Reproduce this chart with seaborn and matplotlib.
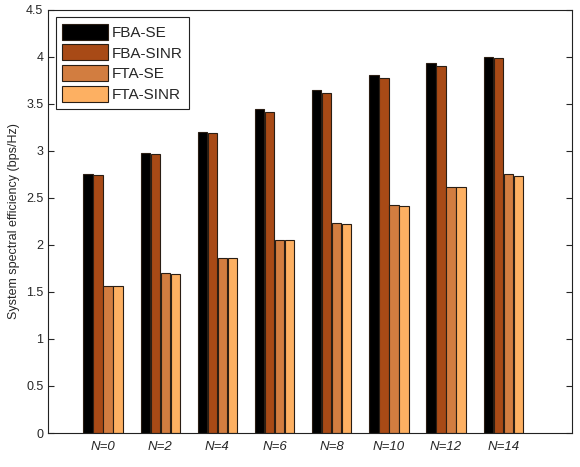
import matplotlib
matplotlib.use("Agg")
import matplotlib.pyplot as plt
import seaborn as sns
import pandas as pd

categories = ["N=0", "N=2", "N=4", "N=6", "N=8", "N=10", "N=12", "N=14"]
series_names = ["FBA-SE", "FBA-SINR", "FTA-SE", "FTA-SINR"]
fba_se = [2.75, 2.975, 3.205, 3.445, 3.65, 3.81, 3.93, 4.00]
fba_sinr = [2.745, 2.965, 3.19, 3.41, 3.62, 3.78, 3.90, 3.99]
fta_se = [1.56, 1.705, 1.865, 2.056, 2.23, 2.42, 2.617, 2.75]
fta_sinr = [1.56, 1.695, 1.86, 2.055, 2.22, 2.41, 2.615, 2.737]
colors = ["#000000", "#A84A16", "#D27D40", "#FDB062"]

rows = []
for name, vals in zip(series_names, [fba_se, fba_sinr, fta_se, fta_sinr]):
    for c, v in zip(categories, vals):
        rows.append({"cat": c, "series": name, "value": v})
df = pd.DataFrame(rows)

sns.set_style("ticks")
plt.rcParams["font.family"] = ["Liberation Sans", "DejaVu Sans"]

fig = plt.figure(figsize=(5.8, 4.67), dpi=100)
ax = fig.add_axes([0.083, 0.0728, 0.903, 0.906])
sns.barplot(data=df, x="cat", y="value", hue="series", order=categories,
            hue_order=series_names, palette=colors, saturation=1,
            width=0.7, gap=0.08,
            edgecolor="#2a1e14", linewidth=0.8, ax=ax, errorbar=None)

ax.set_xlim(-0.96, 8.2)
ax.set_ylim(0, 4.5)
ax.set_yticks([0, 0.5, 1, 1.5, 2, 2.5, 3, 3.5, 4, 4.5])
ax.set_yticklabels(["0", "0.5", "1", "1.5", "2", "2.5", "3", "3.5", "4", "4.5"])
ax.set_xlabel("")
ax.set_ylabel("System spectral efficiency (bps/Hz)", fontsize=9)
for lab in ax.get_xticklabels():
    lab.set_fontstyle("italic")
ax.tick_params(axis="both", direction="in", labelsize=9, length=4, width=0.8,
               top=True, right=True)
ax.tick_params(axis="x", length=0, pad=6, labelsize=9.5)
for s in ax.spines.values():
    s.set_visible(True)
    s.set_linewidth(0.8)
    s.set_color("#222222")

leg = ax.legend(loc="upper left", bbox_to_anchor=(0.015, 0.983), fontsize=11,
                borderaxespad=0,
                handlelength=3.0, handleheight=1.25, labelspacing=0.3,
                handletextpad=0.22, borderpad=0.42, fancybox=False,
                edgecolor="#222222", framealpha=1)
leg.get_frame().set_linewidth(0.8)

fig.savefig("out.png", dpi=100)
